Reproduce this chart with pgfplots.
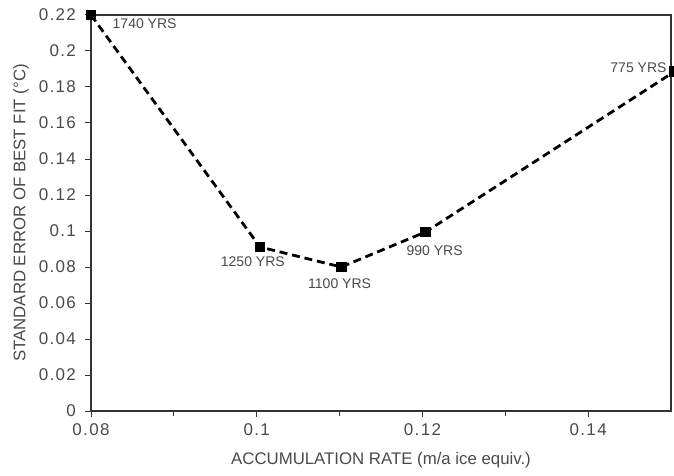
\documentclass[border=0pt]{standalone}
\usepackage{fontspec}
\setmainfont{Liberation Sans}
\newfontfamily\spaced[LetterSpace=8]{Liberation Sans}
\usepackage{pgfplots}
\pgfplotsset{compat=1.18}
\definecolor{txt}{HTML}{4A4A4A}
\begin{document}
\begin{tikzpicture}
\begin{axis}[
    name=ax,
    scale only axis,
    width=290pt,
    height=198pt,
    xmin=0.08, xmax=0.15,
    ymin=0, ymax=0.22,
    xtick={0.08,0.1,0.12,0.14},
    minor xtick={0.09,0.11,0.13},
    ytick={0,0.02,0.04,0.06,0.08,0.1,0.12,0.14,0.16,0.18,0.2,0.22},
    scaled ticks=false,
    /pgf/number format/fixed,
    /pgf/number format/precision=2,
    /pgf/number format/assume math mode=true,
    xtick pos=bottom, ytick pos=left,
    tick align=outside,
    major tick length=3pt, minor tick length=2.5pt,
    tick style={black!80, line width=0.5pt},
    axis line style={black!80, line width=0.6pt},
    tick label style={font=\spaced\fontsize{8.5}{10}\selectfont, text=txt},
    yticklabel style={xshift=-1pt},
    xlabel={ACCUMULATION RATE (m/a ice equiv.)},
    ylabel={STANDARD ERROR OF BEST FIT (°C)},
    label style={font=\fontsize{8.4}{10}\selectfont, text=txt},
    xlabel style={at={(axis description cs:0.5,-0.1237)}, anchor=center},
    ylabel style={at={(axis description cs:-0.1207,0.5)}, anchor=center},
    clip=false,
]
\addplot[black, line width=1.4pt, dash pattern=on 4pt off 2.4pt,
    mark=square*, mark size=2pt, mark options={solid}]
    coordinates {
    (0.08,0.22) (0.1004,0.0911) (0.1102,0.080) (0.1204,0.0995) (0.1504,0.1885)
};
\node[font=\fontsize{7}{8}\selectfont, text=txt] at (axis cs:0.08647,0.2149) {1740 YRS};
\node[font=\fontsize{7}{8}\selectfont, text=txt] at (axis cs:0.09953,0.0828) {1250 YRS};
\node[font=\fontsize{7}{8}\selectfont, text=txt] at (axis cs:0.1100,0.0706) {1100 YRS};
\node[font=\fontsize{7}{8}\selectfont, text=txt] at (axis cs:0.12147,0.0890) {990 YRS};
\node[font=\fontsize{7}{8}\selectfont, text=txt] at (axis cs:0.14607,0.1910) {775 YRS};
\end{axis}
\pgfresetboundingbox
\path[use as bounding box] ([shift={(-45.5pt,-32pt)}]ax.south west) rectangle ([shift={(1.5pt,7.5pt)}]ax.north east);
\end{tikzpicture}
\end{document}
